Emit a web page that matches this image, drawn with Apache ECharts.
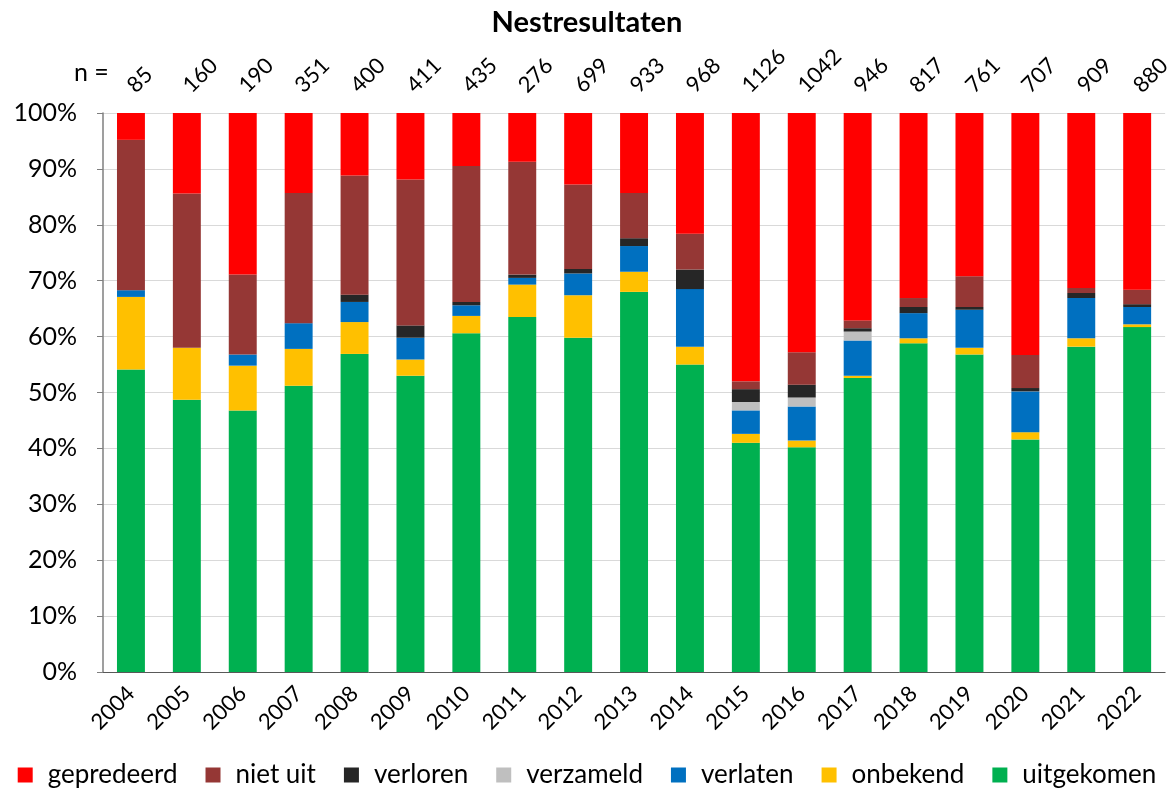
<!DOCTYPE html>
<html>
<head>
<meta charset="utf-8">
<title>Nestresultaten</title>
<script src="https://cdn.jsdelivr.net/npm/echarts@6/dist/echarts.min.js"></script>
<style>
    html, body { margin: 0; padding: 0; background: #fff; }
    #chart { width: 1174px; height: 794px; }
</style>
</head>
<body>
<div id="chart"></div>
<script>
//jaren op de x-as
var jaren = ['2004', '2005', '2006', '2007', '2008', '2009', '2010', '2011', '2012', '2013',
    '2014', '2015', '2016', '2017', '2018', '2019', '2020', '2021', '2022'];
//aantal nesten per jaar (n =)
var aantallen = ['85', '160', '190', '351', '400', '411', '435', '276', '699', '933',
    '968', '1126', '1042', '946', '817', '761', '707', '909', '880'];
//percentages per resultaat, van onder naar boven gestapeld
var uitgekomen = [54.1, 48.7, 46.8, 51.2, 56.9, 53.0, 60.6, 63.5, 59.8, 68.0, 55.0, 41.0, 40.2, 52.6, 58.8, 56.8, 41.6, 58.2, 61.7];
var onbekend = [13.0, 9.3, 8.0, 6.6, 5.7, 2.9, 3.1, 5.8, 7.6, 3.6, 3.2, 1.6, 1.2, 0.4, 0.9, 1.2, 1.3, 1.5, 0.5];
var verlaten = [1.2, 0, 2.0, 4.6, 3.6, 3.9, 1.9, 1.2, 3.9, 4.6, 10.3, 4.2, 6.1, 6.3, 4.5, 6.8, 7.3, 7.2, 3.1];
var verzameld = [0, 0, 0, 0, 0, 0, 0, 0, 0, 0, 0, 1.5, 1.6, 1.6, 0, 0, 0, 0, 0];
var verloren = [0, 0, 0, 0, 1.3, 2.2, 0.6, 0.6, 0.8, 1.4, 3.5, 2.3, 2.3, 0.6, 1.1, 0.5, 0.6, 0.9, 0.5];
var nietUit = [26.9, 27.6, 14.3, 23.3, 21.3, 26.1, 24.3, 20.2, 15.1, 8.1, 6.4, 1.4, 5.8, 1.4, 1.6, 5.5, 5.9, 0.9, 2.6];
var gepredeerd = [4.8, 14.4, 28.9, 14.3, 11.2, 11.9, 9.5, 8.7, 12.8, 14.3, 21.6, 48.0, 42.8, 37.1, 33.1, 29.2, 43.3, 31.3, 31.6];
//as-labels
var yTicks = [0, 10, 20, 30, 40, 50, 60, 70, 80, 90, 100];

var font = 'Lato, "Open Sans", sans-serif';
var tekst = '#000';

//een gestapelde reeks maken
function reeks(naam, data, kleur) {
    return {
        name: naam,
        type: 'bar',
        stack: 'totaal',
        barCategoryGap: '50%',
        data: data,
        itemStyle: { color: kleur },
        emphasis: { disabled: true }
    };
}

var chart = echarts.init(document.getElementById('chart'));
var option = {
    animation: false,
    backgroundColor: '#fff',
    title: {
        text: 'Nestresultaten',
        left: 'center',
        top: 3,
        textStyle: { fontFamily: font, fontWeight: 'bold', fontSize: 29, color: tekst }
    },
    graphic: [{
        type: 'text',
        left: 74,
        top: 60,
        style: { text: 'n =', font: '25px ' + font, fill: tekst }
    }],
    legend: {
        bottom: 1,
        left: 'center',
        icon: 'rect',
        itemWidth: 15,
        itemHeight: 15,
        itemGap: 28,
        textStyle: { fontFamily: font, fontSize: 26, color: tekst, padding: [0, 0, 0, 10] },
        data: ['gepredeerd', 'niet uit', 'verloren', 'verzameld', 'verlaten', 'onbekend', 'uitgekomen']
    },
    grid: { left: 103, right: 4, top: 113, bottom: 122 },
    xAxis: [{
        type: 'category',
        data: jaren,
        axisLine: { lineStyle: { color: '#595959', width: 1 } },
        axisTick: { length: 7, lineStyle: { color: '#595959' } },
        axisLabel: { rotate: 45, fontFamily: font, fontSize: 22, color: tekst, margin: 18 }
    }, {
        //bovenste as met de aantallen
        type: 'category',
        position: 'top',
        data: aantallen,
        axisLine: { show: false },
        axisTick: { show: false },
        axisLabel: { rotate: -45, fontFamily: font, fontSize: 22, color: tekst, margin: 24 }
    }],
    yAxis: {
        type: 'value',
        min: yTicks[0],
        max: yTicks[yTicks.length - 1],
        interval: 10,
        axisLine: { show: true, lineStyle: { color: '#7f7f7f', width: 1.5 } },
        axisTick: { show: true, length: 6, lineStyle: { color: '#7f7f7f' } },
        axisLabel: { formatter: '{value}%', fontFamily: font, fontSize: 25, color: tekst, margin: 26 },
        splitLine: { lineStyle: { color: '#d9d9d9', width: 1 } }
    },
    series: [
        reeks('uitgekomen', uitgekomen, '#00B050'),
        reeks('onbekend', onbekend, '#FFC000'),
        reeks('verlaten', verlaten, '#0070C0'),
        reeks('verzameld', verzameld, '#BFBFBF'),
        reeks('verloren', verloren, '#262626'),
        reeks('niet uit', nietUit, '#953735'),
        reeks('gepredeerd', gepredeerd, '#FF0000')
    ]
};
chart.setOption(option);
</script>
</body>
</html>
